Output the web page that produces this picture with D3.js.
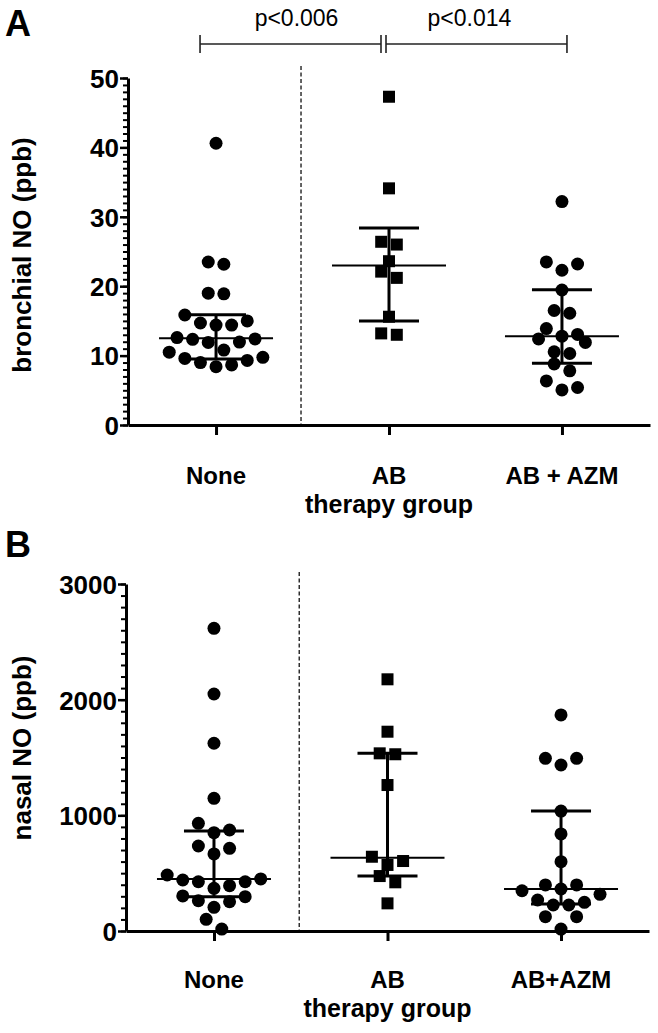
<!DOCTYPE html>
<html><head><meta charset="utf-8">
<script src="https://cdn.jsdelivr.net/npm/d3@7"></script>
<style>
body{margin:0;background:#fff;}
svg{display:block;}
text{font-family:"Liberation Sans",Arial,Helvetica,sans-serif;fill:#000;}
</style>
</head><body>
<svg id="chart" width="658" height="1033"></svg>
<script>
// ---------- DATA ----------
const categoriesA = ["None", "AB", "AB + AZM"];
const categoriesB = ["None", "AB", "AB+AZM"];

// Panel A: bronchial NO (ppb)
const bronchialNone  = [40.6, 23.49, 23.16, 19.0, 18.9, 15.85, 15.0, 14.7, 14.4, 14.4, 12.6, 12.4, 12.35, 11.95, 11.9, 10.8, 10.5, 9.75, 9.6, 9.3, 9.0, 8.65, 8.4];
const bronchialAB    = [47.3, 34.1, 26.4, 26.0, 23.6, 22.1, 21.2, 15.6, 13.2, 13.0];
const bronchialABAZM = [32.2, 23.5, 23.2, 22.3, 19.45, 16.5, 16.1, 13.9, 13.05, 12.8, 12.4, 11.9, 10.55, 10.3, 8.8, 7.8, 6.35, 5.4, 5.05];
const bronchialMedian = [12.5, 23.0, 12.8];
const bronchialQ1     = [9.5, 15.0, 8.9];
const bronchialQ3     = [15.9, 28.4, 19.5];
const bronchialTicks  = [0, 10, 20, 30, 40, 50];

// Panel B: nasal NO (ppb)
const nasalNone  = [2617, 2049, 1623, 1147, 931, 873, 850, 735, 715, 666, 484, 450, 441, 426, 426, 392, 369, 303, 297, 262, 253, 205, 101, 17];
const nasalAB    = [2176, 1723, 1536, 1528, 1262, 642, 605, 571, 475, 421, 239];
const nasalABAZM = [1868, 1493, 1493, 1435, 1037, 839, 599, 398, 398, 363, 348, 317, 268, 248, 225, 225, 124, 124, 17];
const nasalMedian = [450, 634, 363];
const nasalQ1     = [297, 475, 233];
const nasalQ3     = [865, 1536, 1037];
const nasalTicks  = [0, 1000, 2000, 3000];

// significance annotations (panel A)
const pLabels = ["p<0.006", "p<0.014"];
const pPairs  = [["None", "AB"], ["AB", "AB + AZM"]];

// ---------- DRAWING ----------
const svg = d3.select("#chart");
const FONT = '"Liberation Sans",Arial,Helvetica,sans-serif';

function swarm(values, y, step, rowH) {
  const pts = values.map(v => ({v, py: y(v)})).sort((a, b) => a.v - b.v);
  const rows = []; let cur = null;
  for (const p of pts) {
    if (!cur || cur.start - p.py > rowH) { cur = {start: p.py, items: []}; rows.push(cur); }
    cur.items.push(p);
  }
  rows.forEach(r => {
    const n = r.items.length;
    r.items.forEach((p, i) => {
      let k;
      if (n % 2) { k = i === 0 ? 0 : (i % 2 ? Math.ceil(i / 2) : -i / 2); }
      else { const m = Math.floor(i / 2) + 0.5; k = i % 2 === 0 ? m : -m; }
      p.dx = k * step;
    });
  });
  return pts;
}

function drawPanel(cfg) {
  const g = svg.append("g");
  const y = d3.scaleLinear().domain(cfg.domain).range([cfg.bottom, cfg.top]);
  const x = d3.scalePoint().domain(cfg.categories).range([cfg.left, cfg.right]).padding(cfg.pad);

  // dashed separator between None and AB
  const sepX = (x(cfg.categories[0]) + x(cfg.categories[1])) / 2 - 1.5;
  g.append("line").attr("x1", sepX).attr("x2", sepX)
    .attr("y1", cfg.top - 12).attr("y2", cfg.bottom)
    .attr("stroke", "#222").attr("stroke-width", 1.4).attr("stroke-dasharray", "4,2.5");

  // minor ticks
  const minorAxis = d3.axisLeft(y).tickValues(d3.range(cfg.domain[0], cfg.domain[1] + cfg.minor / 2, cfg.minor))
    .tickSize(5).tickSizeOuter(0).tickFormat("");
  const gm = g.append("g").attr("transform", `translate(${cfg.left},0)`).call(minorAxis);
  gm.select(".domain").remove();
  gm.selectAll(".tick line").attr("stroke", "#000").attr("stroke-width", 2);

  // major axis
  const yAxis = d3.axisLeft(y).tickValues(cfg.ticks).tickSize(8).tickSizeOuter(0).tickPadding(1)
    .tickFormat(d3.format("d"));
  const ga = g.append("g").attr("transform", `translate(${cfg.left},0)`).call(yAxis);
  ga.select(".domain").attr("stroke", "#000").attr("stroke-width", 3);
  ga.selectAll(".tick line").attr("stroke", "#000").attr("stroke-width", 2.5);
  ga.selectAll(".tick text").attr("font-family", FONT).attr("font-size", 26).attr("font-weight", "bold")
    .attr("fill", "#000").attr("dy", "0.36em");

  // x axis
  const xAxis = d3.axisBottom(x).tickSize(10).tickSizeOuter(0).tickFormat("");
  const gx = g.append("g").attr("transform", `translate(0,${cfg.bottom})`).call(xAxis);
  gx.select(".domain").attr("stroke", "#000").attr("stroke-width", 3);
  gx.selectAll(".tick line").attr("stroke", "#000").attr("stroke-width", 3);

  // category labels
  g.selectAll(".cat").data(cfg.categories).enter().append("text")
    .attr("x", d => x(d)).attr("y", cfg.bottom + cfg.catDy)
    .attr("text-anchor", "middle").attr("font-size", 24).attr("font-weight", "bold").text(d => d);
  g.append("text").attr("x", x(cfg.categories[1])).attr("y", cfg.bottom + cfg.catDy + 29)
    .attr("text-anchor", "middle").attr("font-size", 25).attr("font-weight", "bold").text("therapy group");

  // y title
  g.append("text").attr("transform", `translate(${cfg.titleX},${cfg.titleY}) rotate(-90)`)
    .attr("text-anchor", "middle").attr("dy", "0.35em")
    .attr("font-size", 26).attr("font-weight", "bold").text(cfg.title);

  // panel letter
  g.append("text").attr("x", 5).attr("y", cfg.letterY).attr("font-size", 36).attr("font-weight", "bold").text(cfg.letter);

  // points
  cfg.series.forEach((vals, i) => {
    const cx = x(cfg.categories[i]);
    const pts = swarm(vals, y, 15.6, 14.8);
    if (cfg.shapes[i] === "square") {
      g.append("g").selectAll("rect").data(pts).enter().append("rect")
        .attr("x", d => cx + d.dx - 6).attr("y", d => d.py - 6)
        .attr("width", 12).attr("height", 12).attr("fill", "#000");
    } else {
      g.append("g").selectAll("circle").data(pts).enter().append("circle")
        .attr("cx", d => cx + d.dx).attr("cy", d => d.py).attr("r", 6.5).attr("fill", "#000");
    }
  });

  // median + IQR bars
  cfg.categories.forEach((c, i) => {
    const cx = x(c);
    g.append("line").attr("x1", cx).attr("x2", cx).attr("y1", y(cfg.q1[i])).attr("y2", y(cfg.q3[i]))
      .attr("stroke", "#000").attr("stroke-width", 3);
    [cfg.q1[i], cfg.q3[i]].forEach(v => {
      g.append("line").attr("x1", cx - 30).attr("x2", cx + 30).attr("y1", y(v)).attr("y2", y(v))
        .attr("stroke", "#000").attr("stroke-width", 3);
    });
    g.append("line").attr("x1", cx - 57).attr("x2", cx + 57).attr("y1", y(cfg.median[i])).attr("y2", y(cfg.median[i]))
      .attr("stroke", "#000").attr("stroke-width", 2);
  });
  return {x, y, g};
}

const A = drawPanel({
  categories: categoriesA, domain: [0, 50], ticks: bronchialTicks, minor: 1,
  top: 78, bottom: 425, left: 128, right: 650, pad: 0.509,
  series: [bronchialNone, bronchialAB, bronchialABAZM], shapes: ["circle", "square", "circle"],
  median: bronchialMedian, q1: bronchialQ1, q3: bronchialQ3,
  title: "bronchial NO (ppb)", titleX: 22, titleY: 255, letter: "A", letterY: 36, catDy: 59
});

const B = drawPanel({
  categories: categoriesB, domain: [0, 3000], ticks: nasalTicks, minor: 100,
  top: 584, bottom: 931, left: 126, right: 649, pad: 0.507,
  series: [nasalNone, nasalAB, nasalABAZM], shapes: ["circle", "square", "circle"],
  median: nasalMedian, q1: nasalQ1, q3: nasalQ3,
  title: "nasal NO (ppb)", titleX: 22, titleY: 748, letter: "B", letterY: 557, catDy: 57
});

// significance brackets (panel A)
const bracketOffsets = [[-16, -8], [-3, 5]];
pPairs.forEach((pair, i) => {
  const x1 = A.x(pair[0]) + bracketOffsets[i][0];
  const x2 = A.x(pair[1]) + bracketOffsets[i][1];
  const yb = 44;
  const gb = svg.append("g").attr("stroke", "#222").attr("stroke-width", 1.6);
  gb.append("line").attr("x1", x1).attr("x2", x2).attr("y1", yb).attr("y2", yb);
  gb.append("line").attr("x1", x1).attr("x2", x1).attr("y1", yb - 9).attr("y2", yb + 9);
  gb.append("line").attr("x1", x2).attr("x2", x2).attr("y1", yb - 9).attr("y2", yb + 9);
  svg.append("text").attr("x", (x1 + x2) / 2 + (i === 0 ? 6 : -7)).attr("y", 26)
    .attr("text-anchor", "middle").attr("font-size", 23).attr("fill", "#222").text(pLabels[i]);
});
</script>
</body></html>
